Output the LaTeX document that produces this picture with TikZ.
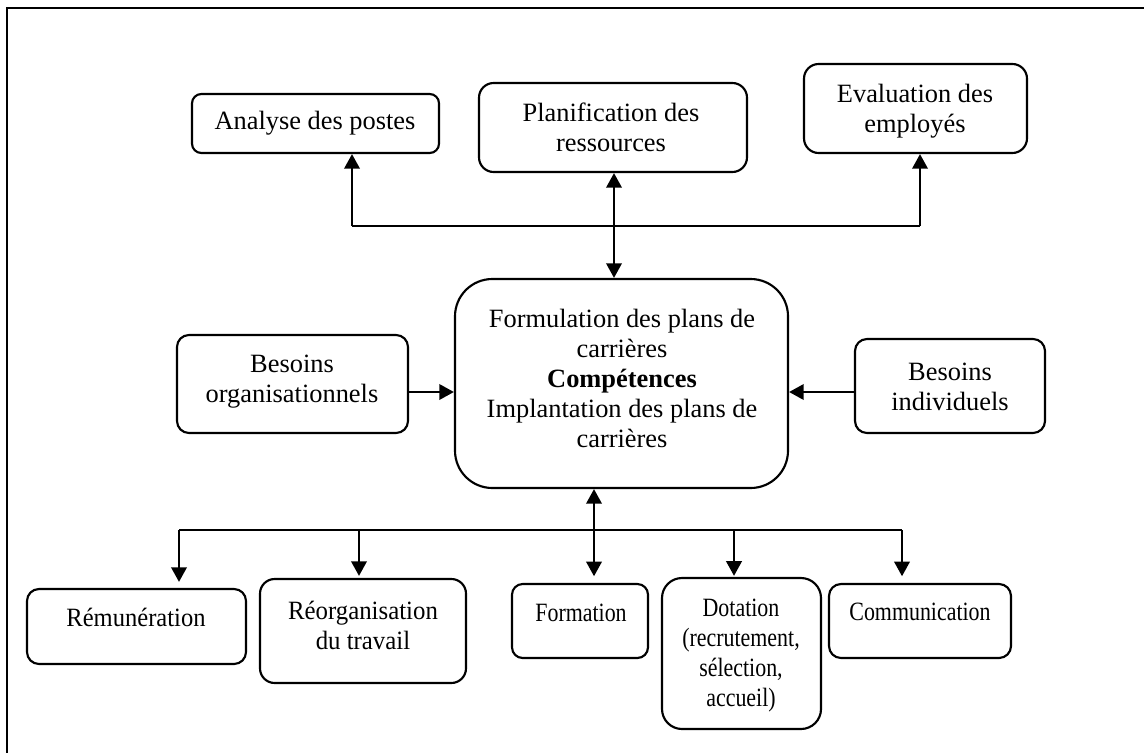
\documentclass[tikz,border=0pt]{standalone}
\usepackage{fontspec}
\setmainfont{Liberation Serif}
\usetikzlibrary{arrows.meta,fit}

\begin{document}
\begin{tikzpicture}[x=0.75pt,y=-0.75pt,
  box/.style={draw, line width=1.6pt, inner sep=0pt, rounded corners=#1},
  box/.default=8pt,
  txt/.style={align=center, inner sep=0pt, font=\fontsize{19.8}{22.5}\selectfont},
  narrow/.style={font=\fontsize{19.8}{22.5}\selectfont\addfontfeature{FakeStretch=#1}},
  conn/.style={line width=2pt},
  arr/.style={conn, -{Triangle[width=11.5pt,length=11pt]}},
  darr/.style={conn, {Triangle[width=11.5pt,length=11pt]}-{Triangle[width=11.5pt,length=11pt]}}]
\useasboundingbox (0,0) rectangle (1144,753);

% frame
\draw[line width=1.7pt] (1144,8) -- (7,8) -- (7,753);

% upper row
\node[box=7pt, fit={(192,94) (439,153)}] (analyse) {};
\node[box=11pt, fit={(479,83) (747,172)}] (plan) {};
\node[box=11pt, fit={(804,64) (1027,153)}] (eval) {};
\node[txt] (t-analyse) at (315,123) {Analyse des postes};
\node[txt] (t-plan) at (611,127) {Planification des\\ressources};
\node[txt] (t-eval) at (915,111) {Evaluation des\\employés};

% centre and sides
\node[box=28pt, fit={(455,279) (788,488)}] (centre) {};
\node[txt] (t-centre) at (622,378) {Formulation des plans de\\carrières\\\textbf{Compétences}\\Implantation des plans de\\carrières};
\node[box=9pt, fit={(177,335) (408,433)}] (borg) {};
\node[txt] (t-borg) at (292,382) {Besoins\\organisationnels};
\node[box=9pt, fit={(855,339) (1045,433)}] (bind) {};
\node[txt] (t-bind) at (950,387) {Besoins\\individuels};

% lower row
\node[box=9pt, fit={(27,589) (246,664)}] (remu) {};
\node[box=11pt, fit={(260,579) (466,683)}] (reorg) {};
\node[box=8pt, fit={(512,584) (648,658)}] (form) {};
\node[box=15pt, fit={(662,578) (821,729)}] (dota) {};
\node[box=9pt, fit={(829,584) (1011,658)}] (comm) {};
\node[txt, narrow=0.93] (t-remu) at (136,617) {Rémunération};
\node[txt, narrow=0.94] (t-reorg) at (363,625) {Réorganisation\\du travail};
\node[txt, narrow=0.83] (t-form) at (581,613) {Formation};
\node[txt, narrow=0.83] (t-dota) at (741,656) {Dotation\\(recrutement,\\sélection,\\accueil)};
\node[txt, narrow=0.83] (t-comm) at (920,612) {Communication};

% upper connectors
\coordinate (tl) at (352,226);
\coordinate (tm) at (614,226);
\coordinate (tr) at (920,226);
\draw[conn] (tl) -- (tr);
\draw[arr] (tl) -- (tl |- analyse.south);
\draw[arr] (tr) -- (tr |- eval.south);
\draw[darr] (tm |- plan.south) -- (tm |- centre.north);

% side connectors
\coordinate (ym) at (0,392);
\draw[arr] (borg.east |- ym) -- (centre.west |- ym);
\draw[arr] (bind.west |- ym) -- (centre.east |- ym);

% lower connectors
\coordinate (bl) at (179,530);
\coordinate (bm) at (594,530);
\coordinate (br) at (902,530);
\draw[conn] (bl) -- (br);
\draw[arr, shorten >=4.5pt] (bl) -- (bl |- remu.north);
\draw[arr, shorten >=1.5pt] (bl -| 359,0) -- (reorg.north -| 359,0);
\draw[darr, shorten >=5pt] (bm |- centre.south) -- (bm |- form.north);
\draw[arr, shorten >=0.8pt] (bl -| 734,0) -- (dota.north -| 734,0);
\draw[arr, shorten >=5pt] (br) -- (br |- comm.north);
\end{tikzpicture}
\end{document}
